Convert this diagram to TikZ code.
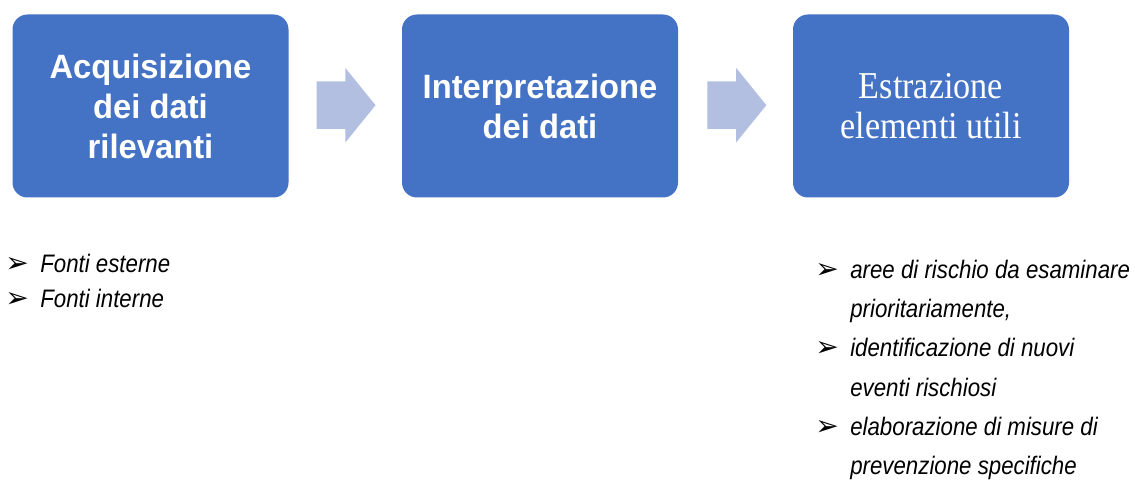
\documentclass[tikz,border=0pt]{standalone}
\usepackage{fontspec}
\usepackage{tikz}
\usetikzlibrary{shapes.arrows}
\setmainfont{Liberation Sans}
\newfontfamily\boxfont{Liberation Sans}[FakeStretch=0.97]
\newfontfamily\serfont{Liberation Serif}[FakeStretch=0.9]
\newfontfamily\listfont{Liberation Sans}[FakeStretch=0.88]
\newfontfamily\symfont{DejaVu Sans}
\definecolor{boxblue}{RGB}{68,114,196}
\definecolor{arrblue}{RGB}{178,191,225}
\newcommand{\bul}{{\symfont\fontsize{20}{20}\selectfont ➢}}
\tikzset{
	stepbox/.style={fill=boxblue, rounded corners=0.375cm, minimum width=6.9cm, minimum height=4.575cm, text=white, align=center, inner sep=0pt},
	sanstep/.style={stepbox, font=\boxfont\bfseries\fontsize{24}{28.45}\selectfont},
	serstep/.style={stepbox, font=\serfont\fontsize{27}{28.45}\selectfont},
	flowarrow/.style={single arrow, fill=arrblue, minimum height=1.475cm, inner xsep=0pt, inner ysep=0.5875cm, single arrow head extend=0.3375cm, single arrow tip angle=102},
	itemlist/.style={anchor=base west, inner sep=0pt}
}

\begin{document}
\begin{tikzpicture}
		\useasboundingbox (0,0) rectangle (28.375,-12.1);
		\node[sanstep] (acq) at (3.7625,-2.65) {Acquisizione\\dei dati\\rilevanti};
		\node[sanstep] (interp) at (13.5,-2.65) {Interpretazione\\dei dati};
		\node[serstep] (estr) at (23.275,-2.65) {Estrazione\\elementi utili};
		\node[flowarrow] (arr1) at (8.41,-2.63) {};
		\node[flowarrow] (arr2) at (18.18,-2.63) {};
		\node[itemlist] (fonti) at (0.125,-6.8) {\listfont\itshape\fontsize{18}{25.6}\selectfont
			\begin{tabular}[t]{@{}p{0.875cm}@{}l@{}}
			\bul & Fonti esterne\\
			\bul & Fonti interne
			\end{tabular}};
		\node[itemlist] (utili) at (20.375,-6.95) {\listfont\itshape\fontsize{18}{28}\selectfont
			\begin{tabular}[t]{@{}p{0.875cm}@{}l@{}}
			\bul & aree di rischio da esaminare\\
			 & prioritariamente,\\
			\bul & identificazione di nuovi\\
			 & eventi rischiosi\\
			\bul & elaborazione di misure di\\
			 & prevenzione specifiche
			\end{tabular}};
\end{tikzpicture}
\end{document}
